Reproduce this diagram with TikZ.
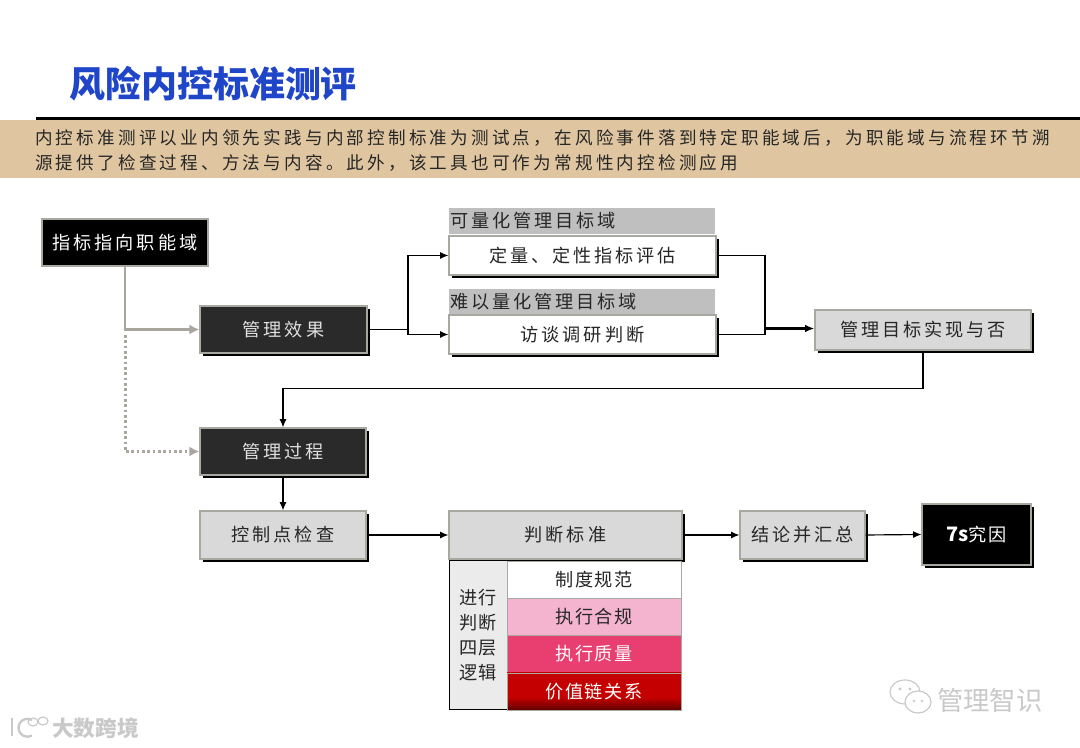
\documentclass[tikz,border=0pt]{standalone}
\usepackage{fontspec}
\setmainfont{Noto Sans CJK SC}
\usetikzlibrary{arrows.meta,shadows}
\definecolor{titleC}{HTML}{1F45C8}
\definecolor{bandFill}{HTML}{E0C6A0}
\definecolor{inkC}{HTML}{262626}
\definecolor{edgeC}{HTML}{A8A8A0}
\definecolor{darkFill}{HTML}{2A2A2A}
\definecolor{greyFill}{HTML}{D9D9D9}
\definecolor{headFill}{HTML}{BFBFBF}
\definecolor{pinkFill}{HTML}{F4B4CF}
\definecolor{roseFill}{HTML}{E83E70}
\definecolor{redFill}{HTML}{C40000}
\definecolor{redDeep}{HTML}{600000}
\definecolor{flowC}{HTML}{ABA5A0}
\definecolor{markC}{HTML}{C9C9C9}
\pgfdeclareverticalshading{rowFade}{100bp}{color(0bp)=(redDeep); color(25bp)=(redDeep); color(42bp)=(redFill); color(100bp)=(redFill)}
\newcommand{\boxFont}{\fontsize{15.5}{19}\selectfont\addfontfeature{LetterSpace=16}}
\newcommand{\rowFont}{\fontsize{15.5}{19}\selectfont\addfontfeature{LetterSpace=8}}
\tikzset{
  >=Latex,
  blockShadow/.style={drop shadow={shadow xshift=0.8mm,shadow yshift=-0.8mm,fill=black,opacity=1}},
  baseBox/.style={draw=edgeC,line width=0.35mm,inner sep=0pt,align=center,font=\boxFont},
  boxBlack/.style={baseBox,fill=black,text=white},
  boxDark/.style={baseBox,blockShadow,fill=darkFill,text=white!88!black},
  boxGrey/.style={baseBox,blockShadow,fill=greyFill,text=inkC},
  boxWhite/.style={baseBox,blockShadow,fill=white,text=inkC},
  headBox/.style={baseBox,draw=none,fill=headFill,text=inkC,align=left,text width=79mm,
                  minimum width=79.8mm},
  rowBox/.style={baseBox,line width=0.2mm,minimum width=52.2mm,minimum height=11.1mm,font=\rowFont},
  flow/.style={-{Latex[length=2.5mm,width=2.1mm]},line width=0.35mm,black},
  flowPlain/.style={line width=0.35mm,black},
  flowThick/.style={-{Latex[length=2.8mm,width=2.3mm]},line width=0.65mm,black},
  greyFlow/.style={-{Latex[length=3mm,width=3mm]},line width=0.75mm,flowC},
}
\begin{document}
\begin{tikzpicture}[x=0.3mm,y=0.3mm]
\useasboundingbox (0,0) rectangle (1080,748);

% Title and lead text.
\fill[bandFill] (0,570) rectangle (1080,628);
\draw[line width=0.9mm] (36,629) -- (1080,629);
\node[font=\fontsize{30.7}{36}\selectfont\bfseries,text=titleC,anchor=west,inner sep=0pt]
  (title) at (69,664) {风险内控标准测评};
\node[font=\fontsize{15}{21.3}\selectfont\addfontfeature{LetterSpace=18.2},text=inkC,
      anchor=west,align=left,inner sep=0pt]
  (lead) at (35,597.5) {内控标准测评以业内领先实践与内部控制标准为测试点，在风险事件落到特定职能域后，为职能域与流程环节溯\\
  源提供了检查过程、方法与内容。此外，该工具也可作为常规性内控检测应用};

% Upper row.
\node[boxBlack,minimum width=49.8mm,minimum height=14.1mm] (domain) at (125,505.5) {指标指向职能域};
\node[boxDark,minimum width=50.1mm,minimum height=14.1mm] (effect) at (283.5,418.5) {管理效果};

\node[headBox,minimum height=7.8mm] (quantHead) at (582,527) {可量化管理目标域};
\node[boxWhite,minimum width=80.1mm,minimum height=11.7mm] (quantBody) at (582.5,492.5) {定量、定性指标评估};
\node[headBox,minimum height=7.5mm] (hardHead) at (582,446.5) {难以量化管理目标域};
\node[boxWhite,minimum width=80.1mm,minimum height=11.7mm] (hardBody) at (582.5,413.5) {访谈调研判断};
\node[boxGrey,minimum width=64.8mm,minimum height=12mm] (goal) at (923,418) {管理目标实现与否};

% Lower row.
\node[boxDark,minimum width=49.8mm,minimum height=14.1mm] (process) at (283,296.5) {管理过程};
\node[boxGrey,minimum width=49.8mm,minimum height=14.4mm] (check) at (283,213) {控制点检查};
\node[boxGrey,minimum width=69.9mm,minimum height=14.4mm] (standard) at (565.5,213) {判断标准};
\node[boxGrey,minimum width=37.5mm,minimum height=14.4mm] (conclude) at (802.5,213) {结论并汇总};
\node[boxBlack,blockShadow,minimum width=32.7mm,minimum height=18.3mm,font=\rowFont] (cause) at (976.5,213.5)
  {{\fontsize{17}{19}\selectfont\addfontfeature{LetterSpace=0}\bfseries 7s}究因};

% Four layers of the judgement.
\node[baseBox,draw=black,fill=black!8,text=inkC,line width=0.3mm,minimum width=17.4mm,minimum height=44.7mm,
      font=\fontsize{15.5}{21.3}\selectfont] (logic) at (478,112.5) {进行\\判断\\四层\\逻辑};
\node[rowBox,fill=white,text=inkC] (rowRule) at (594,168.5) {制度规范};
\node[rowBox,fill=pinkFill,text=inkC] (rowComply) at (594,131.5) {执行合规};
\node[rowBox,fill=roseFill,text=white] (rowQuality) at (594,94) {执行质量};
\node[rowBox,shade,shading=rowFade,text=white] (rowValue) at (594,56.5) {价值链关系};

% Connectors.
\draw[greyFlow] (domain.south) |- (effect.west);
\coordinate (dotStart) at (125,413);
\draw[greyFlow,line width=0.9mm,dash pattern=on 0.8mm off 0.8mm] (dotStart) |- (process.west);

\coordinate (fork) at (408,418.5);
\draw[flowPlain] (effect.east) -- (fork);
\draw[flow] (fork) |- (quantBody.west);
\draw[flow] (fork) |- (hardBody.west);

\coordinate (merge) at (765,419.5);
\draw[flowPlain] (quantBody.east) -| (merge);
\draw[flowPlain] (hardBody.east) -| (merge);
\draw[flowThick] (merge) -- (merge -| goal.west);

\draw[flow] (goal.south) -- ++(0,-38) -| (process.north);
\draw[flow] (process.south) -- (check.north);
\draw[flow] (check.east) -- (standard.west);
\draw[flow] (standard.east) -- (conclude.west);
\draw[flow] (conclude.east) -- (cause.west);

% Marks in the corners.
\begin{scope}[markC,line width=0.35mm]
  \draw[fill=white] (905,56) ellipse (15 and 12);
  \draw[fill=white] (918,46) ellipse (13 and 11);
  \fill (900,59) circle (1.6) (910,59) circle (1.6) (914,47) circle (1.4) (922,47) circle (1.4);
  \draw[line width=0.7mm] (12,30) -- (12,12);
  \draw[line width=0.7mm] (32,28) arc (60:300:9);
  \draw (33,26) ellipse (5 and 4);
  \draw (43,27) ellipse (5 and 4);
\end{scope}
\node[font=\fontsize{22.5}{26}\selectfont,text=markC,anchor=west,inner sep=0pt] (markRight) at (937,48) {管理智识};
\node[font=\fontsize{18.5}{22}\selectfont\bfseries,text=markC,anchor=west,inner sep=0pt] (markLeft) at (52,20) {大数跨境};
\end{tikzpicture}
\end{document}
